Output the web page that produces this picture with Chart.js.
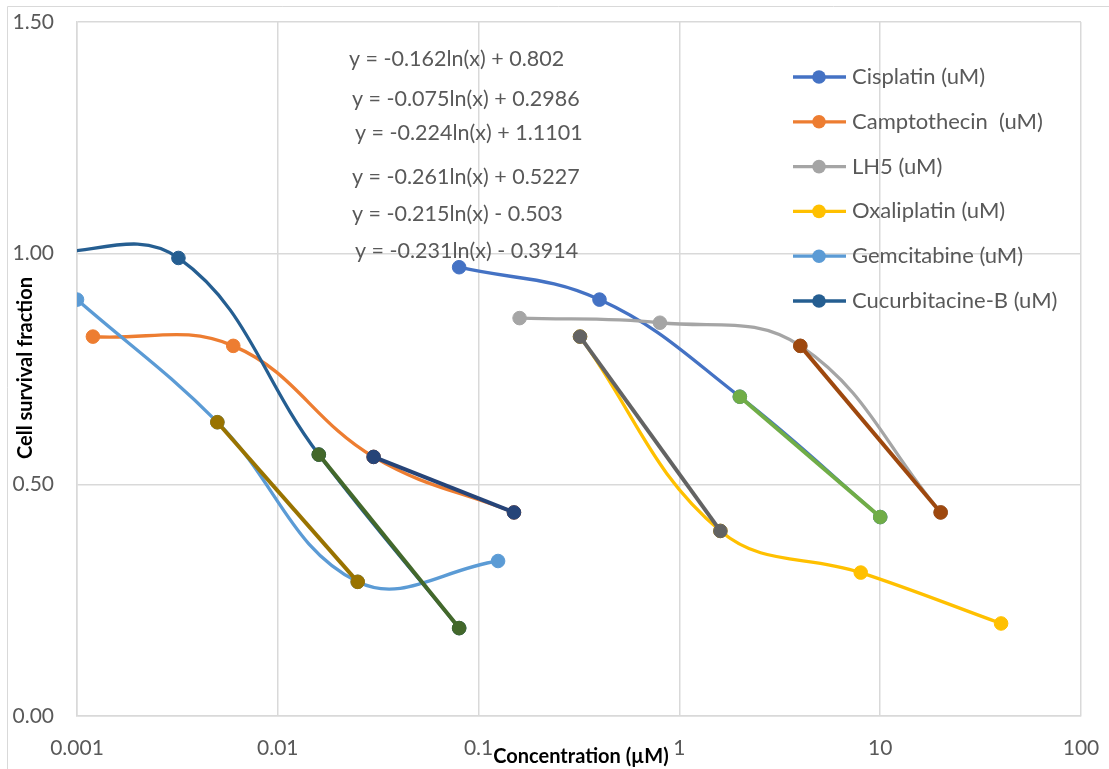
<!DOCTYPE html>
<html>
<head>
<meta charset="utf-8">
<script src="https://cdn.jsdelivr.net/npm/chart.js@4/dist/chart.umd.min.js"></script>
<style>
  html, body { margin: 0; padding: 0; background: #fff; }
  #wrap { position: relative; width: 1109px; height: 769px; }
</style>
</head>
<body>
<div id="wrap"><canvas id="survivalChart" width="1109" height="769"></canvas></div>
<script>
// tick values / labels
var xTicks = [0.001, 0.01, 0.1, 1, 10, 100];
var xTickLabels = ['0.001', '0.01', '0.1', '1', '10', '100'];
var yTicks = [0, 0.5, 1.0, 1.5];
var yTickLabels = ['0.00', '0.50', '1.00', '1.50'];

// measured series
var seriesNames = ['Cisplatin (uM)', 'Camptothecin  (uM)', 'LH5 (uM)', 'Oxaliplatin (uM)', 'Gemcitabine (uM)', 'Cucurbitacine-B (uM)'];
var cisplatinX = [0.08, 0.4, 2, 10];
var cisplatinY = [0.97, 0.90, 0.69, 0.43];
var camptothecinX = [0.0012, 0.006, 0.03, 0.15];
var camptothecinY = [0.82, 0.80, 0.56, 0.44];
var lh5X = [0.16, 0.8, 4, 20];
var lh5Y = [0.86, 0.85, 0.80, 0.44];
var oxaliplatinX = [0.32, 1.6, 8, 40];
var oxaliplatinY = [0.82, 0.40, 0.31, 0.20];
var gemcitabineX = [0.001, 0.005, 0.025, 0.125];
var gemcitabineY = [0.90, 0.635, 0.29, 0.335];
var cucurbitacineX = [0.00064, 0.0032, 0.016, 0.08];
var cucurbitacineY = [1.0, 0.99, 0.565, 0.19];

// log fit segments (two end points each)
var cisplatinFitX = [2, 10];
var cisplatinFitY = [0.69, 0.43];
var camptothecinFitX = [0.03, 0.15];
var camptothecinFitY = [0.56, 0.44];
var lh5FitX = [4, 20];
var lh5FitY = [0.80, 0.44];
var oxaliplatinFitX = [0.32, 1.6];
var oxaliplatinFitY = [0.82, 0.40];
var gemcitabineFitX = [0.005, 0.025];
var gemcitabineFitY = [0.635, 0.29];
var cucurbitacineFitX = [0.016, 0.08];
var cucurbitacineFitY = [0.565, 0.19];

var equations = [
  'y = -0.162ln(x) + 0.802',
  'y = -0.075ln(x) + 0.2986',
  'y = -0.224ln(x) + 1.1101',
  'y = -0.261ln(x) + 0.5227',
  'y = -0.215ln(x) - 0.503',
  'y = -0.231ln(x) - 0.3914'
];

var FONT = 'Lato, "Open Sans", sans-serif';
var GREY_TEXT = '#595959';

function pts(xs, ys) {
  return xs.map(function (x, i) { return {x: x, y: ys[i]}; });
}

function mainSet(idx, xs, ys, color) {
  return {
    label: seriesNames[idx],
    data: pts(xs, ys),
    borderColor: color,
    backgroundColor: color,
    pointBackgroundColor: color,
    pointBorderColor: color,
    borderWidth: 3.3,
    pointRadius: 6.8,
    pointBorderWidth: 1,
    tension: 0.4,
    order: 10 - idx
  };
}

function fitSet(xs, ys, color, ord) {
  return {
    label: '',
    isFit: true,
    data: pts(xs, ys),
    borderColor: color,
    backgroundColor: color,
    pointBackgroundColor: color,
    pointBorderColor: color,
    borderWidth: 4,
    pointRadius: 6.8,
    pointBorderWidth: 1,
    tension: 0,
    order: ord
  };
}

var datasets = [
  mainSet(0, cisplatinX, cisplatinY, '#4472C4'),
  mainSet(1, camptothecinX, camptothecinY, '#ED7D31'),
  mainSet(2, lh5X, lh5Y, '#A5A5A5'),
  mainSet(3, oxaliplatinX, oxaliplatinY, '#FFC000'),
  mainSet(4, gemcitabineX, gemcitabineY, '#5B9BD5'),
  mainSet(5, cucurbitacineX, cucurbitacineY, '#255E91'),
  fitSet(cisplatinFitX, cisplatinFitY, '#70AD47', -1),
  fitSet(camptothecinFitX, camptothecinFitY, '#264478', -2),
  fitSet(lh5FitX, lh5FitY, '#9E480E', -3),
  fitSet(oxaliplatinFitX, oxaliplatinFitY, '#636363', -4),
  fitSet(gemcitabineFitX, gemcitabineFitY, '#997300', -5),
  fitSet(cucurbitacineFitX, cucurbitacineFitY, '#43682B', -6)
];

// frame, equations, custom legend and axis titles
var decorPlugin = {
  id: 'decor',
  afterDraw: function (chart) {
    var ctx = chart.ctx;
    ctx.save();
    // outer frame (left + top visible)
    ctx.strokeStyle = '#D9D9D9';
    ctx.lineWidth = 1;
    ctx.beginPath();
    ctx.moveTo(7.5, 769);
    ctx.lineTo(7.5, 6.5);
    ctx.lineTo(1109, 6.5);
    ctx.stroke();

    // trendline equations
    ctx.fillStyle = GREY_TEXT;
    ctx.font = '21.5px ' + FONT;
    ctx.textAlign = 'left';
    ctx.textBaseline = 'middle';
    var eqPos = [[349, 59], [352, 99], [355, 133], [352, 177], [352, 214], [355, 251]];
    equations.forEach(function (t, i) {
      ctx.fillText(t, eqPos[i][0], eqPos[i][1]);
    });

    // legend
    ctx.font = '22px ' + FONT;
    var ly = 77;
    chart.data.datasets.forEach(function (ds) {
      if (ds.isFit) return;
      ctx.strokeStyle = ds.borderColor;
      ctx.lineWidth = 3.3;
      ctx.beginPath();
      ctx.moveTo(793, ly);
      ctx.lineTo(846, ly);
      ctx.stroke();
      ctx.fillStyle = ds.borderColor;
      ctx.beginPath();
      ctx.arc(819, ly, 6.8, 0, Math.PI * 2);
      ctx.fill();
      ctx.fillStyle = GREY_TEXT;
      ctx.fillText(ds.label, 852, ly);
      ly += 44.8;
    });

    // axis titles
    ctx.fillStyle = '#000';
    ctx.font = 'bold 20px ' + FONT;
    ctx.textAlign = 'center';
    ctx.fillText('Concentration (\u00b5M)', 581, 757);
    ctx.translate(26, 368);
    ctx.rotate(-Math.PI / 2);
    ctx.fillText('Cell survival fraction', 0, 0);
    ctx.restore();
  }
};

function noPad(scale) {
  scale.paddingTop = 0;
  scale.paddingBottom = 0;
  scale.paddingLeft = 0;
  scale.paddingRight = 0;
}

var chart = new Chart(document.getElementById('survivalChart'), {
  type: 'line',
  data: { datasets: datasets },
  options: {
    responsive: false,
    animation: false,
    layout: { padding: { left: 0, right: 28, top: 22, bottom: 0 } },
    plugins: {
      legend: { display: false },
      tooltip: { enabled: false }
    },
    scales: {
      x: {
        type: 'logarithmic',
        min: 0.001,
        max: 100,
        afterBuildTicks: function (scale) {
          scale.ticks = xTicks.map(function (v) { return {value: v}; });
        },
        afterFit: function (scale) { scale.height = 53; noPad(scale); },
        ticks: {
          color: GREY_TEXT,
          font: { family: FONT, size: 21 },
          padding: 20,
          maxRotation: 0,
          autoSkip: false,
          callback: function (v) {
            var i = xTicks.indexOf(v);
            return i >= 0 ? xTickLabels[i] : '';
          }
        },
        grid: { color: '#D9D9D9', lineWidth: 1.5, drawTicks: false },
        border: { color: '#D9D9D9', width: 1.5 }
      },
      y: {
        type: 'linear',
        min: 0,
        max: 1.5,
        afterBuildTicks: function (scale) {
          scale.ticks = yTicks.map(function (v) { return {value: v}; });
        },
        afterFit: function (scale) { scale.width = 77; noPad(scale); },
        ticks: {
          color: GREY_TEXT,
          font: { family: FONT, size: 21 },
          padding: 23,
          callback: function (v) {
            var i = yTicks.indexOf(v);
            return i >= 0 ? yTickLabels[i] : '';
          }
        },
        grid: { color: '#D9D9D9', lineWidth: 1.5, drawTicks: false },
        border: { color: '#D9D9D9', width: 1.5 }
      }
    }
  },
  plugins: [decorPlugin]
});
</script>
</body>
</html>
